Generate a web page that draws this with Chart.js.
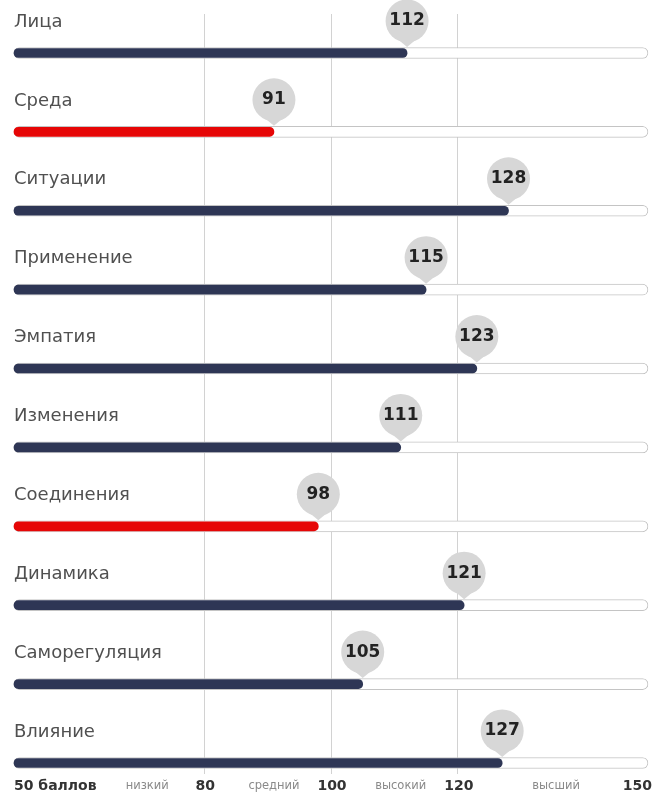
<!DOCTYPE html>
<html>
<head>
<meta charset="utf-8">
<script src="https://cdn.jsdelivr.net/npm/chart.js@4/dist/chart.umd.min.js"></script>
<style>
  body { margin: 0; background: #fff; }
  #wrap { width: 666px; height: 796px; }
</style>
</head>
<body>
<div id="wrap"><canvas id="scores" width="666" height="796"></canvas></div>
<script>
// Data
const categories = ['Лица', 'Среда', 'Ситуации', 'Применение', 'Эмпатия', 'Изменения', 'Соединения', 'Динамика', 'Саморегуляция', 'Влияние'];
const scores = [112, 91, 128, 115, 123, 111, 98, 121, 105, 127];
const lowScores = [false, true, false, false, false, false, true, false, false, false];

// bottom axis
const tickValues = [50, 71, 80, 91, 100, 111, 120, 135.5, 150];
const tickLabels = ['50 баллов', 'низкий', '80', 'средний', '100', 'высокий', '120', 'высший', '150'];
const gridValues = [80, 100, 120];

const NAVY = '#2e3655';
const RED = '#e60606';
const FONT = '"DejaVu Sans", Verdana, sans-serif';

// row labels + pin bubbles on top of the bars
const labelsPlugin = {
    id: 'rowLabels',
    afterDatasetsDraw(chart) {
        const ctx = chart.ctx;
        const xs = chart.scales.x;
        const ys = chart.scales.y;
        ctx.save();
        categories.forEach((name, i) => {
            const y = ys.getPixelForValue(i);
            ctx.fillStyle = '#505050';
            ctx.font = '18px ' + FONT;
            ctx.textAlign = 'left';
            ctx.textBaseline = 'middle';
            ctx.fillText(name, chart.chartArea.left, y - 31);

            // bubble
            const x = xs.getPixelForValue(scores[i]);
            const cy = y - 32;
            ctx.fillStyle = '#d7d7d7';
            ctx.beginPath();
            ctx.arc(x, cy, 21.5, 0, Math.PI * 2);
            ctx.fill();
            ctx.beginPath();
            ctx.moveTo(x - 12, cy + 16);
            ctx.lineTo(x + 12, cy + 16);
            ctx.lineTo(x, cy + 26);
            ctx.closePath();
            ctx.fill();
            ctx.fillStyle = '#222';
            ctx.font = 'bold 17px ' + FONT;
            ctx.textAlign = 'center';
            ctx.fillText(String(scores[i]), x, cy);
        });

        // bottom scale text
        const ty = chart.chartArea.bottom + 16;
        tickValues.forEach((v, i) => {
            const word = isNaN(Number(tickLabels[i])) && i !== 0;
            ctx.font = word ? '11.5px ' + FONT : 'bold 14px ' + FONT;
            ctx.fillStyle = word ? '#8a8a8a' : '#333';
            ctx.textAlign = i === 0 ? 'left' : (i === tickValues.length - 1 ? 'right' : 'center');
            let px = xs.getPixelForValue(v);
            if (i === tickValues.length - 1) px += 4;
            else if (i > 0 && !word) px += 1;
            ctx.fillText(tickLabels[i], px, ty);
        });
        ctx.restore();
    }
};

const ctx = document.querySelector('#scores').getContext('2d');

const scoreChart = new Chart(ctx, {
    type: 'bar',
    data: {
        datasets: [{
            label: 'score',
            data: scores.map((v, i) => ({ x: v, y: i })),
            backgroundColor: lowScores.map(l => l ? RED : NAVY),
            base: 50,
            barThickness: 9,
            borderRadius: 5,
            borderSkipped: false,
            grouped: false,
            clip: false,
            order: 0
        }, {
            label: 'track',
            data: scores.map((v, i) => ({ x: 150, y: i })),
            backgroundColor: '#fff',
            borderColor: '#c4c4c4',
            borderWidth: 1,
            base: 50,
            barThickness: 11,
            borderRadius: 6,
            borderSkipped: false,
            grouped: false,
            clip: false,
            order: 1
        }]
    },
    options: {
        indexAxis: 'y',
        responsive: false,
        animation: false,
        layout: { padding: { left: 14, right: 18, top: 14, bottom: 22 } },
        plugins: { legend: { display: false }, tooltip: { enabled: false } },
        scales: {
            x: {
                type: 'linear',
                min: 50,
                max: 150,
                afterBuildTicks: scale => { scale.ticks = gridValues.map(v => ({ value: v })); },
                ticks: { display: false },
                grid: { color: '#d2d2d2', tickLength: 4, drawTicks: true },
                border: { display: false }
            },
            y: {
                type: 'linear',
                reverse: true,
                offset: false,
                min: -0.494,
                max: 9.089,
                grid: { offset: false },
                display: false
            }
        }
    },
    plugins: [labelsPlugin]
});
</script>
</body>
</html>
